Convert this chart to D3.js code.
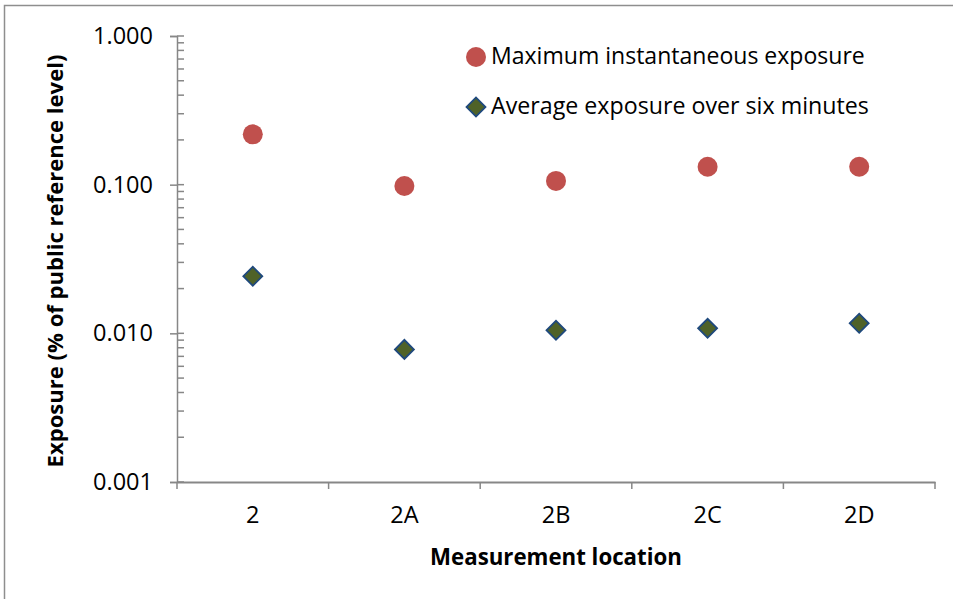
<!DOCTYPE html>
<html>
<head>
<meta charset="utf-8">
<script src="https://cdn.jsdelivr.net/npm/d3@7"></script>
<style>
  body { margin: 0; background: #fff; }
  svg text { font-family: "Open Sans", "Noto Sans", sans-serif; fill: #000; }
</style>
</head>
<body>
<div id="chart"></div>
<script>
// chart values
var locations = ["2", "2A", "2B", "2C", "2D"];
var maxExposure = [0.218, 0.098, 0.106, 0.132, 0.132];
var avgExposure = [0.0242, 0.0078, 0.0105, 0.0108, 0.0117];
var yTickValues = [0.001, 0.01, 0.1, 1];
var seriesNames = ["Maximum instantaneous exposure", "Average exposure over six minutes"];

var W = 953, H = 599;
var margin = {top: 36, right: 18, bottom: 117, left: 177};

var svg = d3.select("#chart")
    .append("svg")
    .attr("width", W)
    .attr("height", H);

// outer frame of the chart area (runs off the right and bottom edge)
svg.append("rect")
    .attr("x", 4.5).attr("y", 5.5)
    .attr("width", 1000).attr("height", 700)
    .attr("fill", "none")
    .attr("stroke", "#8e8e8e")
    .attr("stroke-width", 1.5);

// shrink/grow a text so it fills a given width
function fit(sel, target) {
    var w = sel.node().getComputedTextLength();
    var fs = parseFloat(sel.attr("font-size"));
    sel.attr("font-size", fs * target / w);
    return fs * target / w;
}

var x = d3.scaleBand()
    .domain(locations)
    .range([margin.left, W - margin.right])
    .padding(0);

var y = d3.scaleLog()
    .domain([0.001, 1])
    .range([H - margin.bottom, margin.top]);

var axisColor = "#878787";

// measure the tick font so "1.000" is as wide as in the picture
var probe = svg.append("text").attr("font-size", 20).text("1.000");
var tickFont = fit(probe, 60);
probe.remove();

// Y axis
var yAxis = svg.append("g")
    .attr("transform", "translate(" + margin.left + ",0)")
    .call(d3.axisLeft(y)
        .tickValues(yTickValues)
        .tickFormat(d3.format(".3f"))
        .tickSize(7)
        .tickPadding(17));
yAxis.select(".domain").attr("stroke", axisColor).attr("stroke-width", 1.5);
yAxis.selectAll(".tick line").attr("stroke", axisColor).attr("stroke-width", 1.5);
yAxis.selectAll(".tick text").attr("font-size", tickFont).attr("font-family", null);

// inner half of the major ticks
svg.append("g").selectAll("line")
    .data(yTickValues)
    .join("line")
    .attr("x1", margin.left).attr("x2", margin.left + 7)
    .attr("y1", function(d) { return y(d); })
    .attr("y2", function(d) { return y(d); })
    .attr("stroke", axisColor).attr("stroke-width", 1.5);

// minor ticks
var minor = y.ticks().filter(function(d) {
    return Math.abs(Math.log10(d) - Math.round(Math.log10(d))) > 1e-6;
});
svg.append("g").selectAll("line")
    .data(minor)
    .join("line")
    .attr("x1", margin.left).attr("x2", margin.left + 7)
    .attr("y1", function(d) { return y(d); })
    .attr("y2", function(d) { return y(d); })
    .attr("stroke", axisColor).attr("stroke-width", 1.5);

// X axis
var xAxis = svg.append("g")
    .attr("transform", "translate(0," + (H - margin.bottom) + ")")
    .call(d3.axisBottom(x).tickSize(0).tickPadding(0));
xAxis.select(".domain").attr("stroke", axisColor).attr("stroke-width", 2);
xAxis.selectAll(".tick text")
    .attr("font-size", tickFont)
    .attr("font-family", null)
    .attr("y", 41).attr("dy", 0);

// tick marks at category boundaries
var bounds = locations.map(function(d) { return x(d); }).concat([x(locations[locations.length - 1]) + x.bandwidth()]);
xAxis.append("g").selectAll("line")
    .data(bounds)
    .join("line")
    .attr("x1", function(d) { return d; })
    .attr("x2", function(d) { return d; })
    .attr("y1", 0).attr("y2", 7)
    .attr("stroke", axisColor).attr("stroke-width", 1.5);

// axis titles
var xTitle = svg.append("text")
    .attr("x", (margin.left + W - margin.right) / 2)
    .attr("y", 565)
    .attr("text-anchor", "middle")
    .attr("font-weight", "bold")
    .attr("font-size", 20)
    .text("Measurement location");
fit(xTitle, 252);

var yTitle = svg.append("text")
    .attr("transform", "translate(63," + ((margin.top + H - margin.bottom) / 2 + 2) + ") rotate(-90)")
    .attr("text-anchor", "middle")
    .attr("font-weight", "bold")
    .attr("font-size", 20)
    .text("Exposure (% of public reference level)");
fit(yTitle, 413);

// points
var cx = function(d, i) { return x(locations[i]) + x.bandwidth() / 2; };

svg.append("g").selectAll("circle")
    .data(maxExposure)
    .join("circle")
    .attr("cx", cx)
    .attr("cy", function(d) { return y(d); })
    .attr("r", 10)
    .attr("fill", "#C0504D");

var diamond = d3.symbol().type(d3.symbolSquare).size(180);
svg.append("g").selectAll("path")
    .data(avgExposure)
    .join("path")
    .attr("d", diamond)
    .attr("transform", function(d, i) { return "translate(" + cx(d, i) + "," + y(d) + ") rotate(45)"; })
    .attr("fill", "#4F6228")
    .attr("stroke", "#1F497D")
    .attr("stroke-width", 1.8);

// legend
var legend = svg.append("g");
legend.append("circle")
    .attr("cx", 476).attr("cy", 57).attr("r", 10)
    .attr("fill", "#C0504D");
legend.append("path")
    .attr("d", diamond)
    .attr("transform", "translate(476,107) rotate(45)")
    .attr("fill", "#4F6228")
    .attr("stroke", "#1F497D")
    .attr("stroke-width", 1.8);
var l1 = legend.append("text")
    .attr("x", 491).attr("y", 64)
    .attr("font-size", 20)
    .text(seriesNames[0]);
fit(l1, 374);
var l2 = legend.append("text")
    .attr("x", 491).attr("y", 114)
    .attr("font-size", 20)
    .text(seriesNames[1]);
fit(l2, 378);
</script>
</body>
</html>
